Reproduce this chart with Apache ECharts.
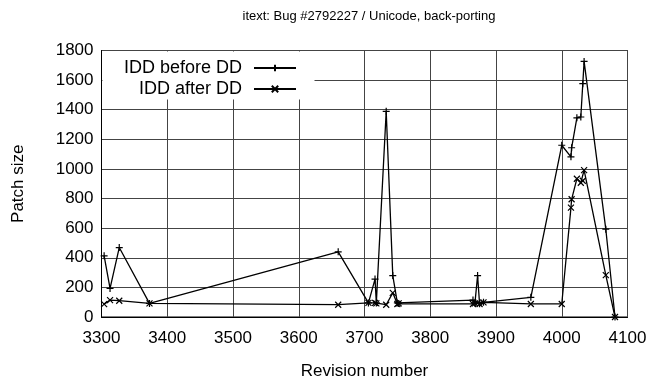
<!DOCTYPE html>
<html><head><meta charset="utf-8">
<script src="https://cdn.jsdelivr.net/npm/echarts@6/dist/echarts.min.js"></script>
<style>html,body{margin:0;padding:0;background:#fff}#c{width:652px;height:385px}</style>
</head><body><div id="c"></div>
<script>
const titleText = 'itext: Bug #2792227 / Unicode, back-porting';
const seriesNames = ['IDD before DD', 'IDD after DD'];
const revisions = [3304, 3313, 3327, 3373, 3660, 3706, 3716, 3718, 3733, 3743, 3750, 3752, 3865, 3868, 3872, 3875, 3881, 3953, 4000, 4014, 4015, 4023, 4029, 4032, 4034, 4067, 4081];
const beforeDD = [413, 193, 469, 92, 440, 95, 256, 95, 1389, 280, 95, 92, 114, 95, 280, 90, 99, 133, 1160, 1082, 1143, 1345, 1351, 1576, 1726, 593, 0];
const afterDD = [87, 114, 110, 92, 83, 95, 95, 92, 83, 163, 88, 92, 88, 92, 95, 88, 99, 88, 88, 739, 795, 934, 907, 920, 992, 283, 0];
const xTicks = {min: 3300, max: 4100, interval: 100};
const yTicks = {min: 0, max: 1800, interval: 200};

const FONT = 'Liberation Sans';
const plus = 'path://M0,5L10,5M5,0L5,10';
const cross = 'path://M0,0L10,10M10,0L0,10';
function pairs(ys){ return revisions.map((x,i)=>[x, ys[i]]); }
const chart = echarts.init(document.getElementById('c'), null, {renderer:'canvas'});
const mkSeries = (name, ys, sym, sz) => ({
  name, type:'line', data: pairs(ys), symbol: sym, symbolSize: sz, showSymbol:true,
  lineStyle:{color:'#000', width:1.3}, itemStyle:{color:'transparent', borderColor:'#000', borderWidth:1.2},
  emphasis:{disabled:true}, animation:false, z:5
});
const legendText = {fontFamily:FONT, fontSize:18, color:'#000', padding:[0,7,0,0]};
chart.setOption({
  animation:false,
  backgroundColor:'#fff',
  title:{text:titleText, left:364, top:5, textAlign:'center', textStyle:{fontFamily:FONT, fontSize:13, fontWeight:'normal', color:'#000'}},
  grid:{left:101.5, right:24.5, top:50.5, bottom:66.5, show:true, borderColor:'#000', borderWidth:1, backgroundColor:'transparent'},
  graphic:[{type:'rect', shape:{x:102.5, y:51.5, width:212, height:48}, style:{fill:'#fff'}, z:3}],
  legend:[
    {data:[seriesNames[0]], right:350, top:54, align:'right', itemWidth:42, itemHeight:8, z:6, textStyle:legendText},
    {data:[seriesNames[1]], right:350, top:75, align:'right', itemWidth:42, itemHeight:8, z:6, textStyle:legendText}
  ],
  xAxis:{type:'value', min:xTicks.min, max:xTicks.max, interval:xTicks.interval,
    name:'Revision number', nameLocation:'middle', nameGap:46,
    nameTextStyle:{fontFamily:FONT, fontSize:17, color:'#000'},
    axisLine:{show:true, lineStyle:{color:'#000'}}, axisTick:{show:false},
    axisLabel:{fontFamily:FONT, fontSize:17, color:'#000', margin:13, formatter:v=>String(v)},
    splitLine:{show:true, lineStyle:{color:'#444', width:1}}},
  yAxis:{type:'value', min:yTicks.min, max:yTicks.max, interval:yTicks.interval,
    name:'Patch size', nameLocation:'middle', nameGap:75, nameRotate:90,
    nameTextStyle:{fontFamily:FONT, fontSize:17, color:'#000'},
    axisLine:{show:true, lineStyle:{color:'#000'}}, axisTick:{show:false},
    axisLabel:{fontFamily:FONT, fontSize:17, color:'#000', margin:8, formatter:v=>String(v)},
    splitLine:{show:true, lineStyle:{color:'#444', width:1}}},
  series:[mkSeries(seriesNames[0], beforeDD, plus, 7), mkSeries(seriesNames[1], afterDD, cross, 6)]
});
</script></body></html>
